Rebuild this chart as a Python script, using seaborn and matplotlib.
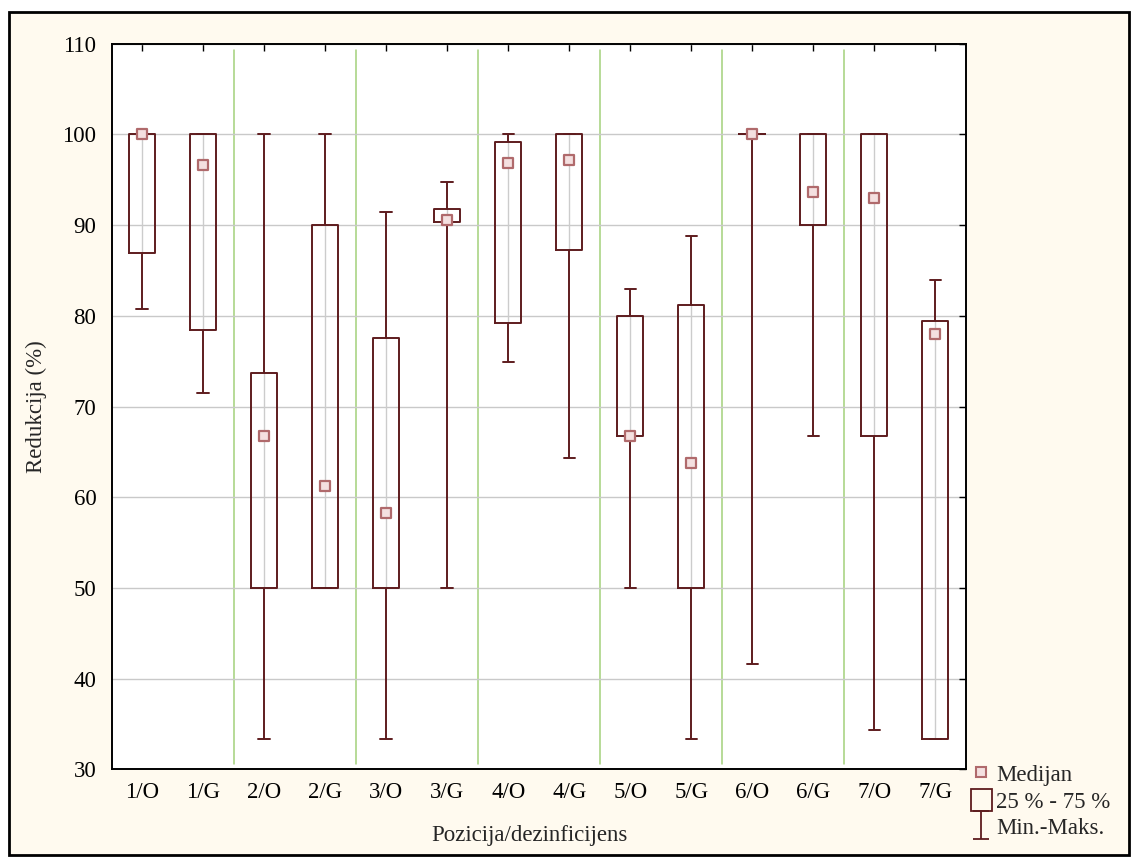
import numpy as np
import pandas as pd
import matplotlib
matplotlib.use('Agg')
import matplotlib.pyplot as plt
import seaborn as sns
from matplotlib.lines import Line2D
from matplotlib.patches import Patch, Rectangle
from matplotlib.path import Path

# podaci (očitano s grafa)
kategorije = ['1/O', '1/G', '2/O', '2/G', '3/O', '3/G', '4/O',
              '4/G', '5/O', '5/G', '6/O', '6/G', '7/O', '7/G']
minimum = [80.8, 71.5, 33.4, 50.0, 33.4, 50.0, 74.9, 64.3, 50.0, 33.4, 41.6, 66.7, 34.4, 33.4]
q1 = [86.9, 78.4, 50.0, 50.0, 50.0, 90.3, 79.2, 87.3, 66.8, 50.0, 100.0, 90.0, 66.7, 33.4]
medijan = [100.0, 96.6, 66.7, 61.2, 58.3, 90.6, 96.8, 97.2, 66.7, 63.8, 100.0, 93.7, 93.0, 78.0]
q3 = [100.0, 100.0, 73.7, 90.0, 77.6, 91.8, 99.2, 100.0, 80.0, 81.2, 100.0, 100.0, 100.0, 79.4]
maksimum = [100.0, 100.0, 100.0, 100.0, 91.4, 94.8, 100.0, 100.0, 83.0, 88.8, 100.0, 100.0, 100.0, 83.9]

# pet vrijednosti po kategoriji -> kvartili se poklapaju s q1/medijan/q3
rows = []
for i, k in enumerate(kategorije):
    for v in (minimum[i], q1[i], medijan[i], q3[i], maksimum[i]):
        rows.append({'Pozicija': k, 'Redukcija': v})
df = pd.DataFrame(rows)

sns.set_style('white')
plt.rcParams['font.family'] = ['Liberation Serif', 'DejaVu Serif']
fs = 16.5

tamna = '#5e1c1e'

fig = plt.figure(figsize=(11.31, 8.57), dpi=100, facecolor='white')
fig.patches.append(Rectangle((0.008, 0.0025), 0.990, 0.983, transform=fig.transFigure,
                             facecolor='#fffaef', edgecolor='black', linewidth=2, zorder=-5))
ax = fig.add_axes([0.0988, 0.1022, 0.7552, 0.8468])
ax.set_facecolor('white')

sns.boxplot(data=df, x='Pozicija', y='Redukcija', order=kategorije, ax=ax,
            whis=(0, 100), width=0.43, fill=False, color=tamna, saturation=1,
            linewidth=1.4, medianprops={'visible': False}, capwidths=0.19,
            showfliers=False)

# svijetla linija u sredini kutije
ax.vlines(np.arange(len(kategorije)), q1, q3, color='#cccccc', linewidth=1, zorder=1)

sns.stripplot(x=kategorije, y=medijan, order=kategorije, ax=ax, jitter=False,
              marker='s', size=7.5, color='#f4e0e0', edgecolor='#b06a6c', linewidth=1.6, zorder=5)

# zelene razdjelne linije između pozicija
for i in range(1, len(kategorije) - 1, 2):
    ax.axvline(i + 0.5, ymin=0.008, ymax=0.992, color='#a3d17a', linewidth=1.1, zorder=0)

ax.set_ylim(30, 110)
ax.set_xlim(-0.5, len(kategorije) - 0.5)
ax.set_yticks(range(30, 111, 10))
ax.yaxis.grid(True, color='#c9c9c9', linewidth=1)
ax.set_axisbelow(True)
ax.tick_params(direction='in', length=5, width=1, top=True, right=True,
               labelsize=fs, colors='black')
ax.tick_params(axis='y', pad=11)
ax.tick_params(axis='x', pad=9)
for s in ax.spines.values():
    s.set_visible(True)
    s.set_color('black')
    s.set_linewidth(1.4)

ax.set_xlabel('Pozicija/dezinficijens', fontsize=fs, labelpad=16)
ax.xaxis.label.set_x(0.489)
ax.set_ylabel('Redukcija (%)', fontsize=fs, labelpad=11)

# legenda
whisk = Path([(-0.6, -1), (0.6, -1), (0, -1), (0, 1), (-0.6, 1), (0.6, 1)],
             [Path.MOVETO, Path.LINETO, Path.MOVETO, Path.LINETO, Path.MOVETO, Path.LINETO])
handles = [
    Line2D([], [], linestyle='none', marker='s', markersize=7,
           markerfacecolor='#f4e0e0', markeredgecolor='#b06a6c', markeredgewidth=1.5),
    Patch(facecolor='none', edgecolor=tamna, linewidth=1.3),
    Line2D([], [], linestyle='none', marker=whisk, markersize=20,
           markeredgecolor=tamna, markeredgewidth=1.3),
]
fig.legend(handles, ['Medijan', '25 % - 75 %', 'Min.-Maks.'], loc='upper left',
           bbox_to_anchor=(0.8505, 0.121), frameon=False, fontsize=fs,
           handlelength=0.9, handleheight=1.1, handletextpad=0.2, labelspacing=0.12,
           borderaxespad=0)

fig.savefig('out.png', dpi=100)
